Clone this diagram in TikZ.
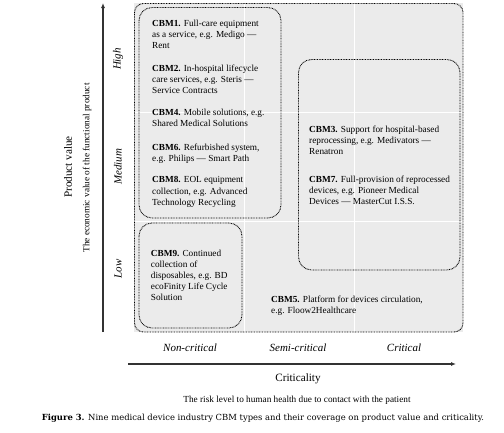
\documentclass[tikz,border=0pt]{standalone}
\usepackage{fontspec}
\setmainfont{Liberation Serif}
\newfontfamily\capfont{DejaVu Serif}
\usetikzlibrary{arrows.meta}
\definecolor{cellgray}{HTML}{EBEBEB}
\definecolor{axisgray}{HTML}{333333}
\begin{document}
\begin{tikzpicture}[x=1bp,y=-1bp,
  dotbox/.style={draw=black, line width=0.9bp, dash pattern=on 0.8bp off 0.8bp},
  cbm/.style={anchor=north west, align=left, inner sep=0pt, font=\fontsize{9.3}{11.1}\selectfont},
  lvl/.style={font=\fontsize{11}{13}\selectfont\itshape, inner sep=0pt},
  axlab/.style={font=\fontsize{11.2}{13}\selectfont, inner sep=0pt},
  axsub/.style={font=\fontsize{9.3}{11}\selectfont, inner sep=0pt},
  axarrow/.style={draw=axisgray, line width=1.1bp, -{Latex[length=5bp,width=4bp]}}]
\useasboundingbox (0,0) rectangle (504,432);
% background grid
\fill[cellgray] (134,3) rectangle (463,332);
\draw[white, line width=0.9bp] (244.5,3) -- (244.5,332) (354,3) -- (354,332)
  (134,112.7) -- (463,112.7) (134,221.7) -- (463,221.7);
% dotted boxes
\draw[dotbox, rounded corners=9bp] (134.5,3.5) rectangle (463,332);
\draw[dotbox, rounded corners=13bp] (139,7.5) rectangle (281,218);
\draw[dotbox, rounded corners=13bp] (139,223) rectangle (242,328);
\draw[dotbox, rounded corners=13bp] (298.5,59.5) rectangle (460,270);
% texts (positions: baseline of first line minus 6.4)
\node[cbm] (c1) at (152,20.1) {\textbf{CBM1.} Full-care equipment\\as a service, e.g. Medigo —\\Rent};
\node[cbm] (c2) at (152,64.9) {\textbf{CBM2.} In-hospital lifecycle\\care services, e.g. Steris —\\Service Contracts};
\node[cbm] (c4) at (152,109.3) {\textbf{CBM4.} Mobile solutions, e.g.\\Shared Medical Solutions};
\node[cbm] (c6) at (152,143.3) {\textbf{CBM6.} Refurbished system,\\e.g. Philips — Smart Path};
\node[cbm] (c8) at (152,176.6) {\textbf{CBM8.} EOL equipment\\collection, e.g. Advanced\\Technology Recycling};
\node[cbm] (c9) at (150.7,249.9) {\textbf{CBM9.} Continued\\collection of\\disposables, e.g. BD\\ecoFinity Life Cycle\\Solution};
\node[cbm] (c3) at (309,125.3) {\textbf{CBM3.} Support for hospital-based\\reprocessing, e.g. Medivators —\\Renatron};
\node[cbm] (c7) at (309,175.6) {\textbf{CBM7.} Full-provision of reprocessed\\devices, e.g. Pioneer Medical\\Devices — MasterCut I.S.S.};
\node[cbm] (c5) at (271,295.9) {\textbf{CBM5.} Platform for devices circulation,\\e.g. Floow2Healthcare};
% y axis
\coordinate (ybot) at (103,332);
\coordinate (ytop) at (103,3);
\draw[axarrow] (ybot) -- (ytop);
\node[lvl, rotate=90] (hi) at (118,59) {High};
\node[lvl, rotate=90] (me) at (118,167) {Medium};
\node[lvl, rotate=90] (lo) at (118,269) {Low};
\node[axlab, rotate=90] (pv) at (68,167) {Product value};
\node[axsub, rotate=90] (ev) at (87,168) {The economic value of the functional product};
% x axis
\node[lvl] (nc) at (190,348) {Non-critical};
\node[lvl] (sc) at (298,348) {Semi-critical};
\node[lvl] (cr) at (404,348) {Critical};
\coordinate (xl) at (128,364);
\coordinate (xr) at (456,364);
\draw[axarrow] (xl) -- (xr);
\node[axlab] (crit) at (298,379) {Criticality};
\node[axsub] (risk) at (297,400) {The risk level to human health due to contact with the patient};
% caption
\node[inner sep=0pt, font=\capfont\fontsize{8.45}{10}\selectfont] (cap) at (263,418) {\textbf{Figure 3.} Nine medical device industry CBM types and their coverage on product value and criticality.};
\end{tikzpicture}
\end{document}
